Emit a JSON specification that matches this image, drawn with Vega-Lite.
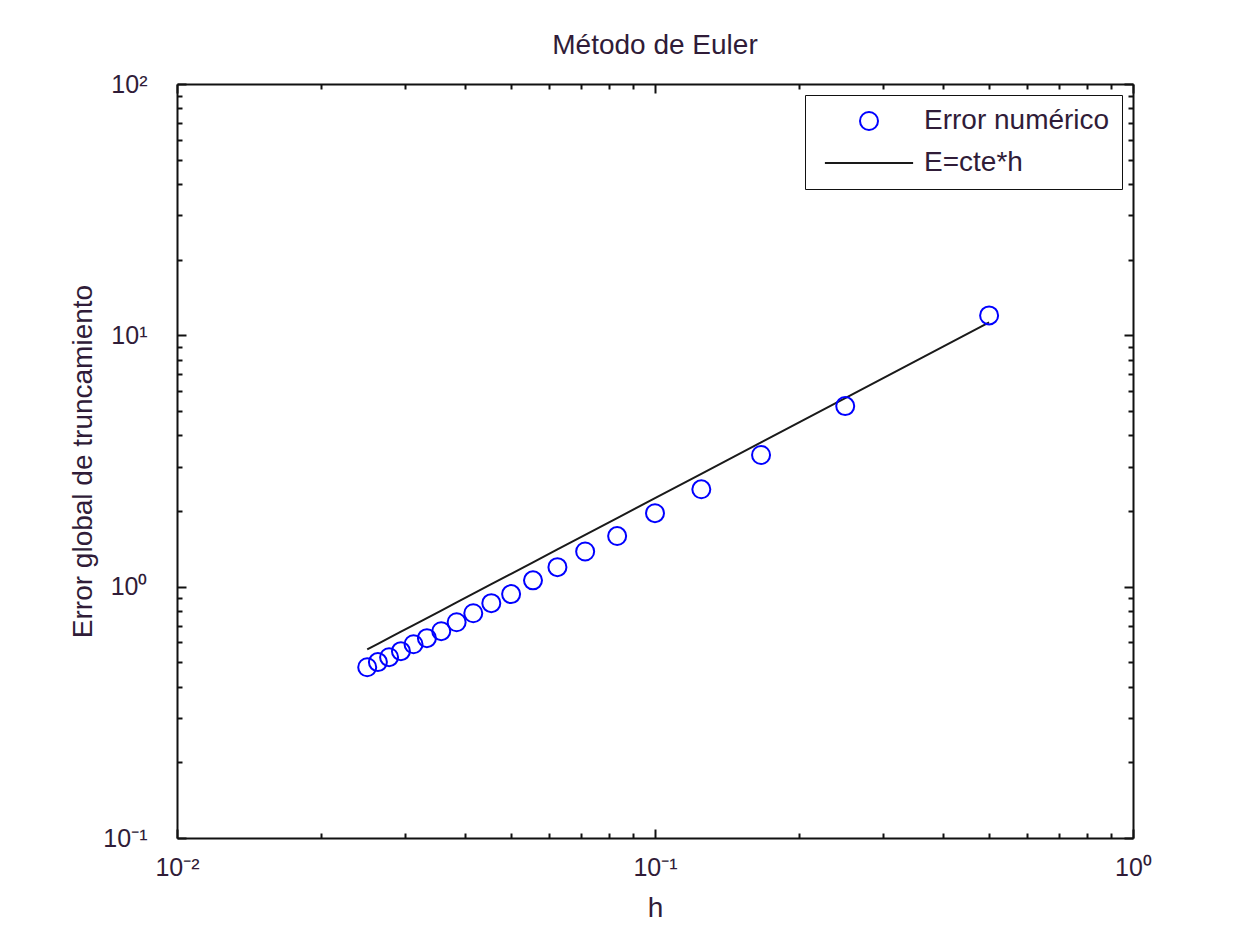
{
  "$schema": "https://vega.github.io/schema/vega-lite/v6.json",
  "width": 956,
  "height": 754,
  "autosize": "none",
  "padding": {"left": 177, "top": 84, "right": 103, "bottom": 100},
  "background": "white",
  "title": {"text": "Método de Euler", "font": "Liberation Sans", "fontSize": 28, "fontWeight": "normal", "color": "#301c38", "offset": 12},
  "config": {
    "view": {"stroke": null},
    "font": "Liberation Sans",
    "axis": {
      "labelFont": "Liberation Sans", "labelFontSize": 25, "labelColor": "#301c38",
      "titleFont": "Liberation Sans", "titleFontSize": 28, "titleFontWeight": "normal", "titleColor": "#301c38",
      "domainColor": "#111111", "domainWidth": 2, "tickColor": "#111111", "tickWidth": 2,
      "grid": false, "labelOverlap": false, "labelFlush": false
    }
  },
  "data": {"values": [
    {"h": 0.5, "err": 12.0, "E": 11.25},
    {"h": 0.25, "err": 5.23, "E": 5.625},
    {"h": 0.16667, "err": 3.34, "E": 3.75},
    {"h": 0.125, "err": 2.44, "E": 2.8125},
    {"h": 0.1, "err": 1.96, "E": 2.25},
    {"h": 0.08333, "err": 1.59, "E": 1.875},
    {"h": 0.07143, "err": 1.38, "E": 1.607},
    {"h": 0.0625, "err": 1.196, "E": 1.406},
    {"h": 0.05556, "err": 1.06, "E": 1.25},
    {"h": 0.05, "err": 0.934, "E": 1.125},
    {"h": 0.04545, "err": 0.86, "E": 1.023},
    {"h": 0.04167, "err": 0.784, "E": 0.9375},
    {"h": 0.03846, "err": 0.722, "E": 0.8654},
    {"h": 0.03571, "err": 0.665, "E": 0.8036},
    {"h": 0.03333, "err": 0.624, "E": 0.75},
    {"h": 0.03125, "err": 0.59, "E": 0.7031},
    {"h": 0.02941, "err": 0.554, "E": 0.6618},
    {"h": 0.02778, "err": 0.524, "E": 0.625},
    {"h": 0.02632, "err": 0.501, "E": 0.5921},
    {"h": 0.025, "err": 0.478, "E": 0.5625}
  ]},
  "transform": [{"fold": ["err", "E"], "as": ["serie", "value"]}],
  "layer": [
    {
      "transform": [{"filter": "datum.serie == 'E'"}],
      "mark": {"type": "line", "color": "#1a1a1a", "strokeWidth": 2},
      "encoding": {
        "x": {"field": "h", "type": "quantitative",
          "scale": {"type": "log", "domain": [0.01, 1], "nice": false},
          "axis": {"orient": "top", "labels": false, "title": null,
            "values": [0.01,0.02,0.03,0.04,0.05,0.06,0.07,0.08,0.09,0.1,0.2,0.3,0.4,0.5,0.6,0.7,0.8,0.9,1],
            "tickSize": {"condition": {"test": "datum.value == 0.01 || datum.value == 0.1 || datum.value == 1", "value": -9}, "value": -5}}},
        "y": {"field": "value", "type": "quantitative",
          "scale": {"type": "log", "domain": [0.1, 100], "nice": false},
          "axis": {"orient": "right", "labels": false, "title": null,
            "values": [0.1,0.2,0.3,0.4,0.5,0.6,0.7,0.8,0.9,1,2,3,4,5,6,7,8,9,10,20,30,40,50,60,70,80,90,100],
            "tickSize": {"condition": {"test": "datum.value == 0.1 || datum.value == 1 || datum.value == 10 || datum.value == 100", "value": -9}, "value": -5}}}
      }
    },
    {
      "transform": [{"filter": "datum.serie == 'err'"}],
      "mark": {"type": "point", "filled": false, "size": 324, "strokeWidth": 2, "opacity": 1},
      "encoding": {
        "x": {"field": "h", "type": "quantitative",
          "scale": {"type": "log", "domain": [0.01, 1], "nice": false},
          "axis": {"orient": "bottom", "title": "h", "titlePadding": 10, "labelPadding": 26,
            "values": [0.01,0.02,0.03,0.04,0.05,0.06,0.07,0.08,0.09,0.1,0.2,0.3,0.4,0.5,0.6,0.7,0.8,0.9,1],
            "labelExpr": "datum.value == 0.01 ? '10⁻²' : datum.value == 0.1 ? '10⁻¹' : datum.value == 1 ? '10⁰' : ''",
            "tickSize": {"condition": {"test": "datum.value == 0.01 || datum.value == 0.1 || datum.value == 1", "value": -9}, "value": -5}}},
        "y": {"field": "value", "type": "quantitative",
          "scale": {"type": "log", "domain": [0.1, 100], "nice": false},
          "axis": {"orient": "left", "title": "Error global de truncamiento", "titlePadding": 5, "labelPadding": 39,
            "values": [0.1,0.2,0.3,0.4,0.5,0.6,0.7,0.8,0.9,1,2,3,4,5,6,7,8,9,10,20,30,40,50,60,70,80,90,100],
            "labelExpr": "datum.value == 0.1 ? '10⁻¹' : datum.value == 1 ? '10⁰' : datum.value == 10 ? '10¹' : datum.value == 100 ? '10²' : ''",
            "tickSize": {"condition": {"test": "datum.value == 0.1 || datum.value == 1 || datum.value == 10 || datum.value == 100", "value": -9}, "value": -5}}},
        "shape": {"field": "serie", "type": "nominal",
          "scale": {"domain": ["err", "E"], "range": ["circle", "M-4.9,0H4.9"]},
          "legend": {"title": null, "orient": "top-right", "offset": 11,
            "labelExpr": "datum.value == 'err' ? 'Error numérico' : 'E=cte*h'",
            "labelFont": "Liberation Sans", "labelFontSize": 28, "labelColor": "#301c38", "labelLimit": 400,
            "strokeColor": "#111111", "fillColor": "white", "padding": 12,
            "symbolOffset": 38, "labelOffset": 41, "rowPadding": 14,
            "symbolSize": 324, "symbolStrokeWidth": 2}},
        "stroke": {"field": "serie", "type": "nominal",
          "scale": {"domain": ["err", "E"], "range": ["#0000ff", "#1a1a1a"]},
          "legend": {"title": null, "orient": "top-right", "offset": 11,
            "labelExpr": "datum.value == 'err' ? 'Error numérico' : 'E=cte*h'",
            "labelFont": "Liberation Sans", "labelFontSize": 28, "labelColor": "#301c38", "labelLimit": 400,
            "strokeColor": "#111111", "fillColor": "white", "padding": 12,
            "symbolOffset": 38, "labelOffset": 41, "rowPadding": 14,
            "symbolSize": 324, "symbolStrokeWidth": 2}}
      }
    }
  ],
  "resolve": {"scale": {"x": "independent", "y": "independent"}}
}
